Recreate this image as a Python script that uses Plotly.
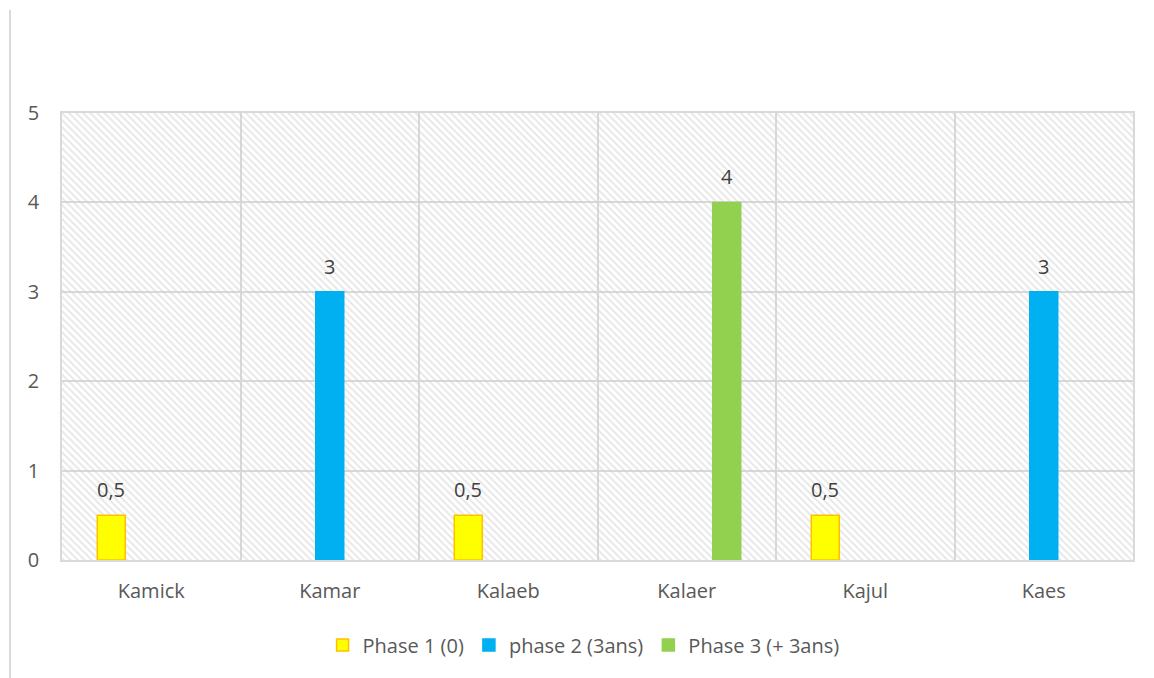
import plotly.graph_objects as go

categories = ["Kamick", "Kamar", "Kalaeb", "Kalaer", "Kajul", "Kaes"]
phase1 = [0.5, None, 0.5, None, 0.5, None]
phase2 = [None, 3, None, None, None, 3]
phase3 = [None, None, None, 4, None, None]
series_names = ["Phase 1 (0)", "phase 2 (3ans)", "Phase 3 (+ 3ans)"]
y_ticks = [0, 1, 2, 3, 4, 5]

FONT = "Open Sans"
FS = 20
GRID = "#d9d9d9"
TXT = "#595959"
colors = ["#FFFF00", "#00B0F0", "#92D050"]
line_colors = ["#FFC000", "#00B0F0", "#92D050"]


def label(v):
    return f"{v:g}".replace(".", ",")


fig = go.Figure()

# hatched plot background, drawn on a hidden numeric axis under the bars
fig.add_trace(
    go.Bar(
        x=[0.5],
        y=[max(y_ticks)],
        width=[1],
        xaxis="x",
        yaxis="y",
        marker=dict(
            color="rgba(0,0,0,0)",
            line=dict(width=0),
            pattern=dict(shape="\\", size=5, solidity=0.4,
                         fgcolor="#d0d0d0", bgcolor="rgba(0,0,0,0)"),
        ),
        showlegend=False,
        hoverinfo="skip",
    )
)

all_series = [phase1, phase2, phase3]
for name, vals, col, lcol in zip(series_names, all_series, colors, line_colors):
    fig.add_trace(
        go.Bar(
            x=categories,
            y=vals,
            name=name,
            xaxis="x2",
            yaxis="y",
            marker=dict(color=col, line=dict(color=lcol, width=1.5)),
        )
    )

# value labels above bars
slot_shift = [-40, 0, 40]
for vals, dx in zip(all_series, slot_shift):
    for cat, v in zip(categories, vals):
        if v is None:
            continue
        fig.add_annotation(
            x=cat, y=v, xref="x2", yref="y",
            text=label(v), showarrow=False,
            yanchor="bottom", yshift=10, xshift=dx,
            font=dict(family=FONT, size=FS, color="#404040"),
        )

# thin grey rule along the left edge of the picture
fig.add_shape(
    type="line", xref="paper", yref="paper",
    xsizemode="pixel", xanchor=0, x0=-52, x1=-52,
    ysizemode="pixel", yanchor=1, y0=103, y1=-565,
    line=dict(color=GRID, width=2),
)

fig.update_layout(
    width=1154,
    height=678,
    margin=dict(l=54, r=29, t=105, b=126),
    paper_bgcolor="white",
    plot_bgcolor="white",
    barmode="group",
    bargap=0.328,
    bargroupgap=0.3,
    font=dict(family=FONT, size=FS, color=TXT),
    xaxis=dict(range=[0, 1], visible=False, fixedrange=True),
    xaxis2=dict(
        overlaying="x",
        anchor="y",
        type="category",
        tickson="boundaries",
        showgrid=True,
        gridcolor=GRID,
        gridwidth=1.5,
        showline=True,
        linecolor=GRID,
        linewidth=1.5,
        mirror=True,
        ticks="",
        ticklabelstandoff=12,
        tickfont=dict(family=FONT, size=FS, color=TXT),
    ),
    yaxis=dict(
        range=[0, max(y_ticks)],
        tickvals=y_ticks,
        showgrid=True,
        gridcolor=GRID,
        gridwidth=1.5,
        showline=True,
        linecolor=GRID,
        linewidth=1.5,
        mirror=True,
        zeroline=False,
        ticks="",
        ticklabelstandoff=17,
        tickfont=dict(family=FONT, size=FS, color=TXT),
    ),
    legend=dict(
        orientation="h",
        x=0.487,
        xanchor="center",
        y=-0.19,
        yanchor="middle",
        font=dict(family=FONT, size=FS, color=TXT),
        itemwidth=30,
    ),
)

fig.write_html("out.html")
